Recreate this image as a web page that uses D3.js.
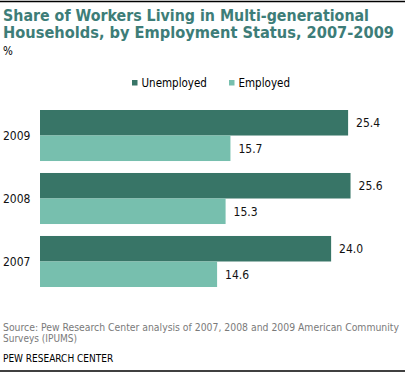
<!DOCTYPE html>
<html><head><meta charset="utf-8">
<script src="https://cdn.jsdelivr.net/npm/d3@7"></script>
<style>body{margin:0;background:#fff;} svg{display:block;font-family:"DejaVu Sans Condensed","DejaVu Sans",Verdana,sans-serif;}</style>
</head><body>
<svg id="c" width="405" height="373"></svg>
<script>
const years = ["2009", "2008", "2007"];
const seriesNames = ["Unemployed", "Employed"];
const unemployed = [25.4, 25.6, 24.0];
const employed = [15.7, 15.3, 14.6];
const colors = ["#387567", "#77bfae"];

const svg = d3.select("#c");
const W = 405;

svg.append("line").attr("x1",0).attr("x2",W).attr("y1",1.5).attr("y2",1.5).attr("stroke","#000").attr("stroke-width",1.5);
svg.append("line").attr("x1",0).attr("x2",W).attr("y1",371).attr("y2",371).attr("stroke","#000").attr("stroke-width",1.5);

const title = svg.append("text").attr("fill","#3d7d78").attr("font-weight","bold").attr("font-size",15.5);
title.append("tspan").attr("x",3).attr("y",20.5).attr("textLength",366).attr("lengthAdjust","spacingAndGlyphs").text("Share of Workers Living in Multi-generational");
title.append("tspan").attr("x",3).attr("y",38).attr("textLength",391).attr("lengthAdjust","spacingAndGlyphs").text("Households, by Employment Status, 2007-2009");
svg.append("text").attr("x",3).attr("y",55).attr("font-size",11.5).attr("fill","#000").text("%");

// legend
const legX = [132, 229];
seriesNames.forEach((s,i)=>{
  svg.append("rect").attr("x",legX[i]).attr("y",80).attr("width",5.5).attr("height",5.5).attr("fill",colors[i]);
  svg.append("text").attr("x",legX[i]+9.5).attr("y",86.5).attr("font-size",11.5).attr("fill","#000").text(s);
});

const x = d3.scaleLinear().domain([0, 10]).range([40, 40 + 121.3]);
const y = d3.scaleBand().domain(years).range([110, 287]).paddingInner(0.19).paddingOuter(0);
const sub = d3.scaleBand().domain(seriesNames).range([0, y.bandwidth()]);

const g = svg.append("g");
years.forEach((yr, i) => {
  const vals = [unemployed[i], employed[i]];
  vals.forEach((v, j) => {
    const s = seriesNames[j];
    g.append("rect").attr("x", x(0)).attr("y", y(yr) + sub(s)).attr("width", x(v) - x(0)).attr("height", sub.bandwidth()).attr("fill", colors[j]);
    g.append("text").attr("x", x(v) + 8).attr("y", y(yr) + sub(s) + sub.bandwidth()/2 + 4.5).attr("font-size", 12).attr("fill", "#111").text(v.toFixed(1));
  });
  g.append("text").attr("x", 3).attr("y", y(yr) + y.bandwidth()/2 + 4.5).attr("font-size", 12).attr("fill", "#111").text(yr);
});

const src = svg.append("text").attr("font-size",10).attr("fill","#7a7a7a");
src.append("tspan").attr("x",3).attr("y",331).attr("textLength",396).attr("lengthAdjust","spacingAndGlyphs").text("Source: Pew Research Center analysis of 2007, 2008 and 2009 American Community");
src.append("tspan").attr("x",3).attr("y",342).text("Surveys (IPUMS)");
svg.append("text").attr("x",3).attr("y",362).attr("font-size",10).attr("fill","#000").text("PEW RESEARCH  CENTER");
</script>
</body></html>
